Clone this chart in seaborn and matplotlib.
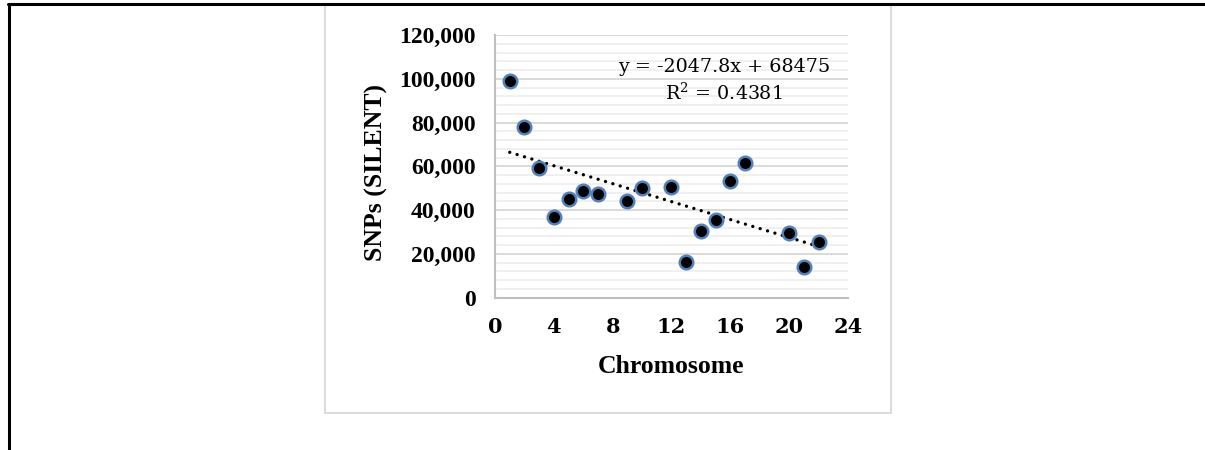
"""Scatter plot of silent SNP counts per chromosome with a linear trend line."""
import matplotlib

matplotlib.use("Agg")
import matplotlib.pyplot as plt
import numpy as np
import pandas as pd
import seaborn as sns
from matplotlib.lines import Line2D
from matplotlib.patches import Rectangle
from matplotlib.ticker import MultipleLocator, StrMethodFormatter

# Data
chromosome = [1, 2, 3, 4, 5, 6, 7, 9, 10, 12, 13, 14, 15, 16, 17, 20, 21, 22]
snps_silent = [
    98800, 78000, 59300, 36700, 45000, 48900, 47500, 44000, 50100,
    50700, 16500, 30300, 35600, 53500, 61700, 29600, 14200, 25600,
]

# Trend line as printed on the chart
slope = -2047.8
intercept = 68475
r_squared = 0.4381

df = pd.DataFrame({"Chromosome": chromosome, "SNPs": snps_silent})
trend_x = np.array([df.Chromosome.min(), df.Chromosome.max()])
trend = pd.DataFrame({"Chromosome": trend_x, "SNPs": intercept + slope * trend_x})

sns.set_style("white")
plt.rcParams["mathtext.fontset"] = "dejavuserif"
plt.rcParams["text.color"] = "black"
plt.rcParams["axes.labelcolor"] = "black"

fig = plt.figure(figsize=(12.05, 4.5), dpi=100)
ax = fig.add_axes([0.4108, 0.3384, 0.2929, 0.5838])

# Outer page frame (top and left border) and the light chart frame
fig.add_artist(Line2D([0.0066, 1.0], [0.9911, 0.9911], color="black", lw=2.2,
                      transform=fig.transFigure))
fig.add_artist(Line2D([0.0072, 0.0072], [0.0, 0.9911], color="black", lw=2.2,
                      transform=fig.transFigure))
fig.add_artist(Rectangle((0.2693, 0.0822), 0.4705, 0.9056, fill=False,
                         edgecolor="#D9D9D9", lw=1.3, transform=fig.transFigure))

# Trend line first so points sit on top
sns.lineplot(data=trend, x="Chromosome", y="SNPs", ax=ax, color="black",
             lw=2.4, linestyle=(0, (0.01, 2.3)), dash_capstyle="round", zorder=3)
sns.scatterplot(data=df, x="Chromosome", y="SNPs", ax=ax, color="black",
                edgecolor="#4F81BD", linewidth=1.8, s=95, zorder=4)

ax.set_xlim(0, 24)
ax.set_ylim(0, 120000)
ax.xaxis.set_major_locator(MultipleLocator(4))
ax.yaxis.set_major_locator(MultipleLocator(20000))
ax.yaxis.set_minor_locator(MultipleLocator(4000))
ax.yaxis.set_major_formatter(StrMethodFormatter("{x:,.0f}"))

ax.grid(True, which="major", axis="y", color="#D9D9D9", lw=1.4)
ax.grid(True, which="minor", axis="y", color="#F0F0F0", lw=1.4)
ax.set_axisbelow(True)

for side in ["top", "right"]:
    ax.spines[side].set_visible(False)
for side in ["left", "bottom"]:
    ax.spines[side].set_color("#BFBFBF")
    ax.spines[side].set_linewidth(1.5)

ax.tick_params(axis="both", which="major", length=5, width=1.5,
               color="#BFBFBF", labelcolor="black", direction="out")
ax.tick_params(axis="y", which="minor", length=0)
ax.tick_params(axis="x", pad=9)
ax.tick_params(axis="y", pad=9)

for lbl in ax.get_xticklabels():
    lbl.set_fontfamily("DejaVu Serif")
    lbl.set_fontweight("bold")
    lbl.set_fontsize(15)
for lbl in ax.get_yticklabels():
    lbl.set_fontfamily("Liberation Serif")
    lbl.set_fontweight("bold")
    lbl.set_fontsize(17)

ax.set_xlabel("Chromosome", family="Liberation Serif", fontweight="bold",
              fontsize=18.5, va="center")
ax.set_ylabel("SNPs (SILENT)", family="Liberation Serif", fontweight="bold",
              fontsize=18.5, va="center")
ax.xaxis.set_label_coords(0.5, -0.26)
ax.yaxis.set_label_coords(-0.335, 0.475)

# Trend line equation
ax.text(15.55, 105500, f"y = {slope}x + {intercept}", family="DejaVu Serif",
        fontsize=13.8, ha="center", va="center")
ax.text(15.55, 93500, f"R$^2$ = {r_squared}", family="DejaVu Serif",
        fontsize=13.8, ha="center", va="center")

fig.savefig("out.png", dpi=100)
